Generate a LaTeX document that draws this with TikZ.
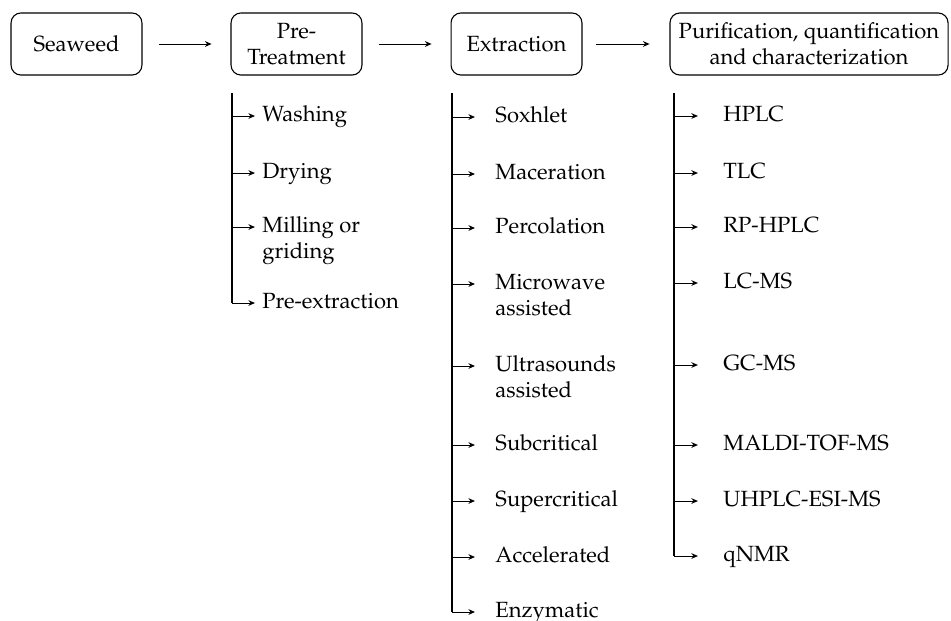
\documentclass[tikz,border=0pt]{standalone}
\usepackage[T1]{fontenc}
\usepackage{mathpazo}
\usepackage{tikz}
\usetikzlibrary{arrows.meta,positioning,calc}
\tikzset{
  stagebox/.style={draw, rounded corners=4.5pt, align=center,
                   minimum height=28.2pt, minimum width=#1,
                   inner sep=2pt, line width=0.5pt},
  stagebox/.default=59.5pt,
  itemnode/.style={anchor=mid west, inner sep=0pt},
  arr/.style   ={-{Stealth[length=3pt,width=2.6pt]}, line width=0.45pt},
  trunk/.style ={line width=0.5pt},
}
% multi-line item, baseline on its first line
\newcommand{\itemtext}[1]{\begin{tabular}[t]{@{}l@{}}#1\end{tabular}}

\begin{document}
\begin{tikzpicture}[x=0.4545pt,y=-0.4545pt]
  \useasboundingbox (0,0) rectangle (951,620);
  %% main stages
  \node[stagebox] (seaweed)  at (76.5,44)  {Seaweed};
  \node[stagebox] (pretreat) at (296.5,44) {Pre-\\Treatment};
  \node[stagebox] (extract)  at (516.5,44) {Extraction};
  \node[stagebox=126.4pt] (purif) at (809,44) {Purification, quantification\\and characterization};
  \draw[arr, shorten <=7.3pt, shorten >=8.6pt] (seaweed) -- (pretreat);
  \draw[arr, shorten <=7.3pt, shorten >=8.6pt] (pretreat) -- (extract);
  \draw[arr, shorten <=6pt, shorten >=9pt] (extract) -- (purif);

  %% pre-treatment steps
  \coordinate (pt) at (232,93);
  \foreach \nm/\txt/\yy in {wash/Washing/116, dry/Drying/173,
      mill/{Milling or\\griding}/227, preext/Pre-extraction/303}
    \node[itemnode] (\nm) at (262,\yy) {\itemtext{\txt}};
  \foreach \nm in {wash,dry,mill,preext}
    \draw[arr, shorten >=3.2pt] (pt |- \nm.mid west) -- (\nm.mid west);
  \draw[trunk] (pt) -- (pt |- preext.mid west);

  %% extraction methods
  \coordinate (et) at (452,93);
  \foreach \nm/\txt/\yy in {sox/Soxhlet/117, mac/Maceration/174,
      perc/Percolation/228, micro/{Microwave\\assisted}/284,
      ultra/{Ultrasounds\\assisted}/366, subcr/Subcritical/445,
      supcr/Supercritical/501, accel/Accelerated/557, enzym/Enzymatic/612}
    \node[itemnode] (\nm) at (495,\yy) {\itemtext{\txt}};
  \foreach \nm in {sox,mac,perc,micro,ultra,subcr,supcr,accel,enzym}
    \draw[arr, shorten >=9.1pt] (et |- \nm.mid west) -- (\nm.mid west);
  \draw[trunk] (et) -- (et |- enzym.mid west);

  %% purification / characterization
  \coordinate (ut) at (674,93);
  \foreach \nm/\txt/\yy in {hplc/HPLC/116, tlc/TLC/173, rphplc/RP-HPLC/227,
      lcms/LC-MS/283, gcms/GC-MS/365, maldi/MALDI-TOF-MS/445,
      uhplc/UHPLC-ESI-MS/501, qnmr/qNMR/556}
    \node[itemnode] (\nm) at (723,\yy) {\itemtext{\txt}};
  \foreach \nm in {hplc,tlc,rphplc,lcms,gcms,maldi,uhplc,qnmr}
    \draw[arr, shorten >=11.4pt] (ut |- \nm.mid west) -- (\nm.mid west);
  \draw[trunk] (ut) -- (ut |- qnmr.mid west);
\end{tikzpicture}
\end{document}
